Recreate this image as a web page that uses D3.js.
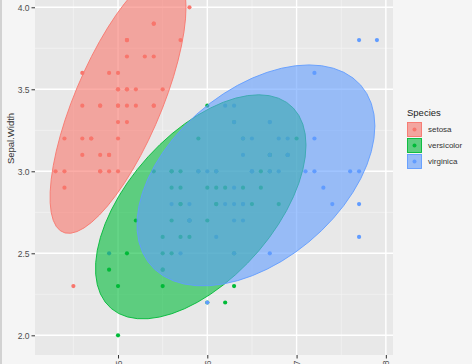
<!DOCTYPE html>
<html>
<head>
<meta charset="utf-8">
<script src="https://cdn.jsdelivr.net/npm/d3@7"></script>
<style>
body { margin: 0; background: #f5f5f5; }
svg { display: block; font-family: "Liberation Sans", Arial, sans-serif; }
</style>
</head>
<body>
<svg id="chart" width="472" height="364"></svg>
<script>
/*global d3 */

var speciesNames = ["setosa", "versicolor", "virginica"];

var setosaLength = [5.1, 4.9, 4.7, 4.6, 5.0, 5.4, 4.6, 5.0, 4.4, 4.9,
                    5.4, 4.8, 4.8, 4.3, 5.8, 5.7, 5.4, 5.1, 5.7, 5.1,
                    5.4, 5.1, 4.6, 5.1, 4.8, 5.0, 5.0, 5.2, 5.2, 4.7,
                    4.8, 5.4, 5.2, 5.5, 4.9, 5.0, 5.5, 4.9, 4.4, 5.1,
                    5.0, 4.5, 4.4, 5.0, 5.1, 4.8, 5.1, 4.6, 5.3, 5.0];
var setosaWidth = [3.5, 3.0, 3.2, 3.1, 3.6, 3.9, 3.4, 3.4, 2.9, 3.1,
                   3.7, 3.4, 3.0, 3.0, 4.0, 4.4, 3.9, 3.5, 3.8, 3.8,
                   3.4, 3.7, 3.6, 3.3, 3.4, 3.0, 3.4, 3.5, 3.4, 3.2,
                   3.1, 3.4, 4.1, 4.2, 3.1, 3.2, 3.5, 3.6, 3.0, 3.4,
                   3.5, 2.3, 3.2, 3.5, 3.8, 3.0, 3.8, 3.2, 3.7, 3.3];

var versicolorLength = [7.0, 6.4, 6.9, 5.5, 6.5, 5.7, 6.3, 4.9, 6.6, 5.2,
                        5.0, 5.9, 6.0, 6.1, 5.6, 6.7, 5.6, 5.8, 6.2, 5.6,
                        5.9, 6.1, 6.3, 6.1, 6.4, 6.6, 6.8, 6.7, 6.0, 5.7,
                        5.5, 5.5, 5.8, 6.0, 5.4, 6.0, 6.7, 6.3, 5.6, 5.5,
                        5.5, 6.1, 5.8, 5.0, 5.6, 5.7, 5.7, 6.2, 5.1, 5.7];
var versicolorWidth = [3.2, 3.2, 3.1, 2.3, 2.8, 2.8, 3.3, 2.4, 2.9, 2.7,
                       2.0, 3.0, 2.2, 2.9, 2.9, 3.1, 3.0, 2.7, 2.2, 2.5,
                       3.2, 2.8, 2.5, 2.8, 2.9, 3.0, 2.8, 3.0, 2.9, 2.6,
                       2.4, 2.4, 2.7, 2.7, 3.0, 3.4, 3.1, 2.3, 3.0, 2.5,
                       2.6, 3.0, 2.6, 2.3, 2.7, 3.0, 2.9, 2.9, 2.5, 2.8];

var virginicaLength = [6.3, 5.8, 7.1, 6.3, 6.5, 7.6, 4.9, 7.3, 6.7, 7.2,
                       6.5, 6.4, 6.8, 5.7, 5.8, 6.4, 6.5, 7.7, 7.7, 6.0,
                       6.9, 5.6, 7.7, 6.3, 6.7, 7.2, 6.2, 6.1, 6.4, 7.2,
                       7.4, 7.9, 6.4, 6.3, 6.1, 7.7, 6.3, 6.4, 6.0, 6.9,
                       6.7, 6.9, 5.8, 6.8, 6.7, 6.7, 6.3, 6.5, 6.2, 5.9];
var virginicaWidth = [3.3, 2.7, 3.0, 2.9, 3.0, 3.0, 2.5, 2.9, 2.5, 3.6,
                      3.2, 2.7, 3.0, 2.5, 2.8, 3.2, 3.0, 3.8, 2.6, 2.2,
                      3.2, 2.8, 2.8, 2.7, 3.3, 3.2, 2.8, 3.0, 2.8, 3.0,
                      2.8, 3.8, 2.8, 2.8, 2.6, 3.0, 3.4, 3.1, 3.0, 3.1,
                      3.1, 3.1, 2.7, 3.2, 3.3, 3.0, 2.5, 3.0, 3.4, 3.0];

var xTicks = [5, 6, 7, 8];
var xMinorTicks = [4.5, 5.5, 6.5, 7.5];
var yTicks = [2.0, 2.5, 3.0, 3.5, 4.0];
var yMinorTicks = [2.25, 2.75, 3.25, 3.75, 4.25];

var chart = (function () {
    "use strict";

    var colors = ["#F8766D", "#00BA38", "#619CFF"],
        fillAlpha = 0.6,
        panel = {left: 35, right: 393, top: -78, bottom: 355},
        x, y, svg;


    //robust t covariance the way MASS::cov.trob does it (nu 5)
    function covTrob(xs, ys) {
        var n = xs.length, nu = 5, p = 2, w, w0, loc, X, sw,
            s11, s12, s22, det, iter, c = [0, 0, 0];
        loc = [d3.mean(xs), d3.mean(ys)];
        w = xs.map(function () { return 1; });
        for (iter = 0; iter < 25; iter += 1) {
            w0 = w.slice();
            X = xs.map(function (v, j) {
                return [v - loc[0], ys[j] - loc[1]]; });
            sw = d3.sum(w);
            s11 = 0; s12 = 0; s22 = 0;
            X.forEach(function (d, j) {
                s11 += w[j] * d[0] * d[0] / sw;
                s12 += w[j] * d[0] * d[1] / sw;
                s22 += w[j] * d[1] * d[1] / sw; });
            det = s11 * s22 - s12 * s12;
            w = X.map(function (d) {
                var q = (s22 * d[0] * d[0] - 2 * s12 * d[0] * d[1] +
                         s11 * d[1] * d[1]) / det;
                return (nu + p) / (nu + q); });
            sw = d3.sum(w);
            loc = [d3.sum(xs, function (v, j) { return w[j] * v; }) / sw,
                   d3.sum(ys, function (v, j) { return w[j] * v; }) / sw];
            if (w.every(function (v, j) { return Math.abs(v - w0[j]) < 0.01; })) {
                break; }
        }
        X.forEach(function (d, j) {
            c[0] += w[j] * d[0] * d[0] / n;
            c[1] += w[j] * d[0] * d[1] / n;
            c[2] += w[j] * d[1] * d[1] / n; });
        return {center: loc, cov: c};
    }


    //95% ellipse, same as stat_ellipse(type = "t")
    function ellipsePoints(xs, ys) {
        var v = covTrob(xs, ys), dfd = xs.length - 1, fq, radius, a, b, c;
        fq = (dfd / 2) * (Math.pow(0.05, -2 / dfd) - 1);
        radius = Math.sqrt(2 * fq);
        a = Math.sqrt(v.cov[0]);
        b = v.cov[1] / a;
        c = Math.sqrt(v.cov[2] - b * b);
        return d3.range(52).map(function (k) {
            var t = k * 2 * Math.PI / 51;
            return [v.center[0] + radius * a * Math.cos(t),
                    v.center[1] + radius * (b * Math.cos(t) + c * Math.sin(t))];
        });
    }


    function drawPanel() {
        svg.append("rect")
            .attr("x", 0).attr("y", 0)
            .attr("width", 472).attr("height", 364)
            .attr("fill", "#f5f5f5");
        svg.append("rect")  //edge of the screenshot
            .attr("x", 0).attr("y", 0)
            .attr("width", 2).attr("height", 364)
            .attr("fill", "#d2d2d2");
        svg.append("defs").append("clipPath")
            .attr("id", "panelclip")
            .append("rect")
            .attr("x", panel.left).attr("y", panel.top)
            .attr("width", panel.right - panel.left)
            .attr("height", panel.bottom - panel.top);
        svg.append("rect")
            .attr("x", panel.left).attr("y", panel.top)
            .attr("width", panel.right - panel.left)
            .attr("height", panel.bottom - panel.top)
            .attr("fill", "#e8e8e8");
        svg.append("g").selectAll("line")
            .data(xMinorTicks).join("line")
            .attr("x1", x).attr("x2", x)
            .attr("y1", panel.top).attr("y2", panel.bottom)
            .attr("stroke", "#f3f3f3").attr("stroke-width", 0.7);
        svg.append("g").selectAll("line")
            .data(yMinorTicks).join("line")
            .attr("x1", panel.left).attr("x2", panel.right)
            .attr("y1", y).attr("y2", y)
            .attr("stroke", "#f3f3f3").attr("stroke-width", 0.7);
        svg.append("g").selectAll("line")
            .data(xTicks).join("line")
            .attr("x1", x).attr("x2", x)
            .attr("y1", panel.top).attr("y2", panel.bottom)
            .attr("stroke", "#ffffff").attr("stroke-width", 1.4);
        svg.append("g").selectAll("line")
            .data(yTicks).join("line")
            .attr("x1", panel.left).attr("x2", panel.right)
            .attr("y1", y).attr("y2", y)
            .attr("stroke", "#ffffff").attr("stroke-width", 1.4);
    }


    function drawAxes() {
        var gy, gx;
        gy = svg.append("g")
            .attr("transform", "translate(" + panel.left + ",0)")
            .call(d3.axisLeft(y).tickValues(yTicks)
                  .tickFormat(d3.format(".1f")).tickSize(3.5).tickPadding(2));
        gx = svg.append("g")
            .attr("transform", "translate(0," + panel.bottom + ")")
            .call(d3.axisBottom(x).tickValues(xTicks)
                  .tickFormat(d3.format("d")).tickSize(3.5));
        [gy, gx].forEach(function (g) {
            g.select(".domain").remove();
            g.selectAll(".tick line").attr("stroke", "#333333");
            g.selectAll("text")
                .attr("fill", "#4d4d4d")
                .style("font-size", "8.5px")
                .style("font-family", "'Liberation Sans', Arial, sans-serif"); });
        gx.selectAll("text")
            .attr("transform", "rotate(-90)")
            .attr("x", -5.5).attr("y", 0).attr("dy", "0.35em")
            .attr("text-anchor", "end");
        svg.append("text")
            .attr("transform", "translate(11," +
                  ((panel.top + panel.bottom) / 2) + ") rotate(-90)")
            .attr("text-anchor", "middle")
            .attr("dy", "0.35em")
            .attr("fill", "#333333")
            .style("font-size", "9.5px")
            .text("Sepal.Width");
    }


    function drawMarks() {
        var groups = [[setosaLength, setosaWidth],
                      [versicolorLength, versicolorWidth],
                      [virginicaLength, virginicaWidth]],
            line = d3.line()
                .x(function (d) { return x(d[0]); })
                .y(function (d) { return y(d[1]); }),
            pts = svg.append("g").attr("clip-path", "url(#panelclip)"),
            ells = svg.append("g").attr("clip-path", "url(#panelclip)");
        groups.forEach(function (grp, i) {
            pts.append("g").selectAll("circle")
                .data(grp[0]).join("circle")
                .attr("cx", function (d) { return x(d); })
                .attr("cy", function (ignore, j) { return y(grp[1][j]); })
                .attr("r", 2.1)
                .attr("fill", colors[i]); });
        groups.forEach(function (grp, i) {
            ells.append("path")
                .datum(ellipsePoints(grp[0], grp[1]))
                .attr("d", line)
                .attr("fill", colors[i])
                .attr("fill-opacity", fillAlpha)
                .attr("stroke", colors[i])
                .attr("stroke-width", 0.9); });
    }


    function drawLegend() {
        var lg = svg.append("g").attr("transform", "translate(407,0)"),
            keys;
        lg.append("text")
            .attr("x", 0).attr("y", 116)
            .attr("fill", "#222222")
            .style("font-size", "9.5px")
            .text("Species");
        keys = lg.selectAll("g.key")
            .data(speciesNames).join("g")
            .attr("class", "key")
            .attr("transform", function (ignore, i) {
                return "translate(0," + (122 + i * 16) + ")"; });
        keys.append("rect")
            .attr("width", 15).attr("height", 15)
            .attr("fill", "#ebebeb");
        keys.append("rect")
            .attr("x", 0.5).attr("y", 0.5)
            .attr("width", 14).attr("height", 14)
            .attr("fill", function (ignore, i) { return colors[i]; })
            .attr("fill-opacity", fillAlpha)
            .attr("stroke", function (ignore, i) { return colors[i]; })
            .attr("stroke-width", 0.9);
        keys.append("circle")
            .attr("cx", 7.5).attr("cy", 7.5).attr("r", 2)
            .attr("fill", function (ignore, i) { return colors[i]; });
        keys.append("text")
            .attr("x", 21).attr("y", 7.5)
            .attr("dy", "0.35em")
            .attr("fill", "#333333")
            .style("font-size", "8px")
            .text(function (d) { return d; });
    }


    return {
        init: function () {
            svg = d3.select("#chart");
            x = d3.scaleLinear().domain([4.07, 8.08])
                .range([panel.left, panel.right]);
            y = d3.scaleLinear().domain([1.88, 4.52])
                .range([panel.bottom, panel.top]);
            drawPanel();
            drawMarks();
            drawAxes();
            drawLegend();
        }
    };
}());

chart.init();
</script>
</body>
</html>
